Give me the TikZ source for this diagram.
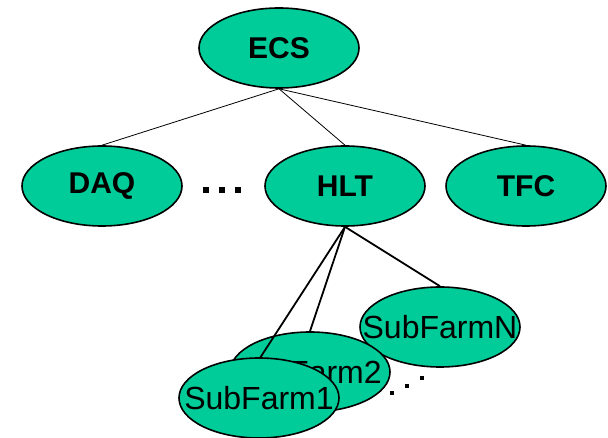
\documentclass[tikz,border=0pt]{standalone}
\usepackage{fontspec}
\setmainfont{Liberation Sans}
\usetikzlibrary{shapes.geometric}
\definecolor{unitgreen}{RGB}{0,204,153}
% label of fixed-size ellipse: zero-width box so the shape keeps its size
\newcommand{\unitlabel}[1]{\makebox[0pt]{#1}}
\begin{document}
\begin{tikzpicture}[x=1pt,y=-1pt,
  unit/.style={ellipse,draw=black,line width=1.6pt,fill=unitgreen,
    inner sep=0pt,minimum width=160pt,minimum height=80pt},
  topunit/.style={unit,font=\fontsize{30}{30}\selectfont\bfseries},
  farm/.style={unit,font=\fontsize{32}{32}\selectfont},
  thinlink/.style={line width=0.8pt},
  thicklink/.style={line width=1.8pt},
  dot/.style={fill=black}]
\useasboundingbox (0,0) rectangle (608,438);
% experiment control system and its subsystems
\node[topunit] (ecs) at (279,48) {\unitlabel{ECS}};
\node[topunit] (daq) at (102,186) {\unitlabel{DAQ}};
\node[topunit] (hlt) at (345,186) {\unitlabel{HLT}};
\node[topunit] (tfc) at (526,186) {\unitlabel{TFC}};
\draw[thinlink] (ecs.south) -- (daq.north);
\draw[thinlink] (ecs.south) -- (hlt.north);
\draw[thinlink] (ecs.south) -- (tfc.north);
% dots between DAQ and HLT
\foreach \x in {206,222,238} \fill[dot] (\x-2.6,187.4) rectangle (\x+2.6,192.6);
% sub-farms of the high level trigger
\node[farm] (sfN) at (440,327) {\unitlabel{SubFarmN}};
\node[farm] (sf2) at (310,372) {\unitlabel{\hspace{-6pt}\raisebox{-5pt}{SubFarm2}}};
\draw[thicklink] (hlt.south) -- (sfN.north);
\draw[thicklink] (hlt.south) -- (sf2.north);
\draw[thicklink] (hlt.south) -- (260,358) coordinate (sf1top);
\node[farm] (sf1) at (259,398) {\unitlabel{SubFarm1}};
% continuation dots
\foreach \x/\y in {392/393,407/386,422/378} \fill[dot] (\x-2.2,\y-2.2) rectangle (\x+2.2,\y+2.2);
\end{tikzpicture}
\end{document}
